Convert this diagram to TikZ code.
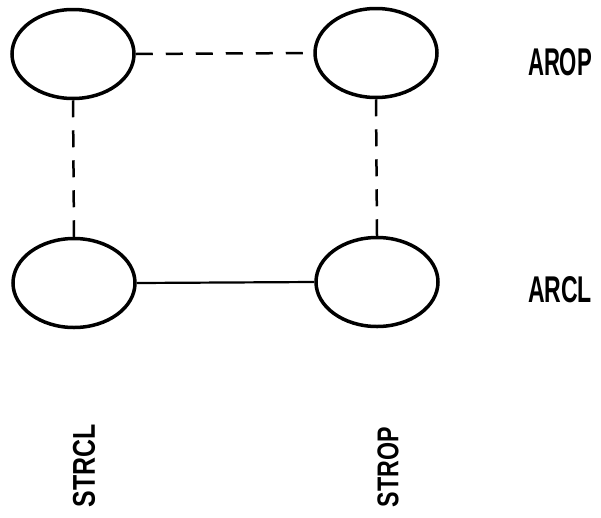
\documentclass[tikz,border=0pt]{standalone}
\usepackage{fontspec}
\setmainfont{Liberation Sans}
\usetikzlibrary{shapes.geometric}
\tikzset{
  stateell/.style={draw, ellipse, line width=3.5pt, minimum width=122pt, minimum height=89pt, inner sep=0pt},
  openlink/.style={line width=2.5pt, dash pattern=on 17pt off 13pt},
  closedlink/.style={line width=2.2pt},
  lbl/.style={inner sep=0pt, font=\bfseries}
}
\begin{document}
\begin{tikzpicture}[x=1pt,y=-1pt]
\useasboundingbox (0,0) rectangle (601,517);
\node[stateell] (tl) at (73,54) {};
\node[stateell] (tr) at (376,53) {};
\node[stateell] (bl) at (74,283) {};
\node[stateell] (br) at (377,282) {};
\draw[openlink] (tl.east) -- (tr.west);
\draw[openlink] (tl.south) -- (bl.north);
\draw[openlink] (tr.south) -- (br.north);
\draw[closedlink] (bl.east) -- (br.west);
\node[lbl] (arop) at (560,62) {\resizebox{64pt}{27pt}{AROP}};
\node[lbl] (arcl) at (560,290) {\resizebox{64pt}{26pt}{ARCL}};
\node[lbl, rotate=90] (strcl) at (84,466) {\resizebox{83pt}{22pt}{STRCL}};
\node[lbl, rotate=90] (strop) at (388,467) {\resizebox{80pt}{21pt}{STROP}};
\end{tikzpicture}
\end{document}
